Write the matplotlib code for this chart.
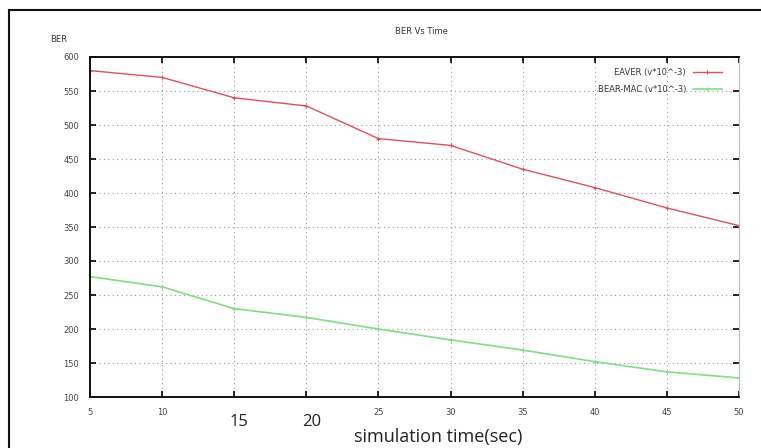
import matplotlib
matplotlib.use('Agg')
import matplotlib.pyplot as plt
from matplotlib.lines import Line2D
from matplotlib.transforms import ScaledTranslation

# simulation time (sec)
time = [5, 10, 15, 20, 25, 30, 35, 40, 45, 50]
eaver = [580, 570, 540, 528, 480, 470, 435, 408, 378, 352]
bear_mac = [277, 262, 230, 217, 200, 184, 169, 152, 137, 128]
yticks = [100, 150, 200, 250, 300, 350, 400, 450, 500, 550, 600]
xtick_labels = ['5', '10', '15', '20', '25', '30', '35', '40', '45', '50']
big_labels = ['15', '20']

fig = plt.figure(figsize=(7.61, 4.48), dpi=100)
ax = fig.add_axes([90 / 761, 1 - 397 / 448, 649 / 761, 340 / 448])

ax.plot(time, eaver, color='#e0505a', lw=1.0, marker='+', ms=3, mew=0.8,
        label='EAVER (v*10^-3)')
ax.plot(time, bear_mac, color='#7ee07e', lw=1.2, marker='+', ms=3, mew=0.8,
        label='BEAR-MAC (v*10^-3)')

ax.set_xlim(5, 50)
ax.set_ylim(100, 600)
ax.set_xticks(time)
ax.set_xticklabels(xtick_labels)
ax.set_yticks(yticks)
ax.grid(True, color='#999999', ls=(0, (1, 3)), lw=0.8)

ax.tick_params(direction='in', length=4, width=1.2, top=True, right=True,
               labelsize=6, labelcolor='#444444', pad=8)
for lab in ax.get_xticklabels():
    if lab.get_text() in big_labels:
        lab.set_fontsize(12)
        lab.set_fontfamily('Open Sans')
        lab.set_color('#222222')
        lab.set_transform(lab.get_transform() +
                          ScaledTranslation(0.05, -0.06, fig.dpi_scale_trans))

for side in ['left', 'bottom', 'top']:
    ax.spines[side].set_linewidth(1.4)
    ax.spines[side].set_color('#111111')
ax.spines['right'].set_color('#bbbbbb')
ax.spines['right'].set_linewidth(0.8)

leg = ax.legend(loc='upper right', frameon=False, fontsize=6, markerfirst=False,
                handlelength=3.5, bbox_to_anchor=(0.985, 0.99), labelspacing=1.0)
for t in leg.get_texts():
    t.set_color('#333333')

fig.text(50 / 761, 1 - 39 / 448, 'BER', fontsize=6, color='#333333', va='center')
fig.text(421 / 761, 1 - 32 / 448, 'BER Vs Time', fontsize=6, color='#333333',
         ha='center', va='center')
fig.text(438 / 761, 1 - 437 / 448, 'simulation time(sec)', fontsize=13,
         family='Open Sans', color='#222222', ha='center', va='center')

# outer frame, only the left and top edges fall inside the image
fig.add_artist(Line2D([9 / 761, 9 / 761], [0, 1 - 10 / 448], color='#111111', lw=1.5))
fig.add_artist(Line2D([9 / 761, 1], [1 - 10 / 448, 1 - 10 / 448], color='#111111', lw=1.5))

fig.savefig('out.png', dpi=100)
